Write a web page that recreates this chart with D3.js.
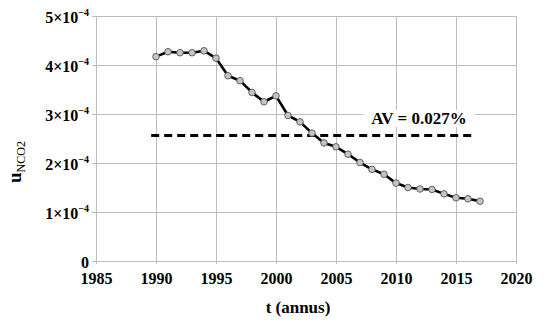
<!DOCTYPE html>
<html><head><meta charset="utf-8">
<script src="https://cdn.jsdelivr.net/npm/d3@7"></script>
<style>body{margin:0;background:#fff;} svg{display:block;font-family:"Liberation Serif","Times New Roman",serif;}</style>
</head><body>
<svg id="c" width="550" height="325"></svg>
<script>
const years = [1990,1991,1992,1993,1994,1995,1996,1997,1998,1999,2000,2001,2002,2003,2004,2005,2006,2007,2008,2009,2010,2011,2012,2013,2014,2015,2016,2017];
const values = [4.17e-4,4.27e-4,4.25e-4,4.25e-4,4.29e-4,4.14e-4,3.78e-4,3.68e-4,3.44e-4,3.25e-4,3.37e-4,2.97e-4,2.84e-4,2.61e-4,2.41e-4,2.33e-4,2.18e-4,2.01e-4,1.87e-4,1.77e-4,1.59e-4,1.50e-4,1.47e-4,1.46e-4,1.37e-4,1.29e-4,1.27e-4,1.22e-4];
const avgValue = 2.56e-4;
const avgRange = [1989.6, 2016.5];
const avgLabel = "AV = 0.027%";
const xTicks = [1985,1990,1995,2000,2005,2010,2015,2020];
const yTicks = [0,1e-4,2e-4,3e-4,4e-4,5e-4];
const yTickMant = ["0","1","2","3","4","5"];
const xTitle = "t (annus)";

const svg = d3.select("#c");
const x = d3.scaleLinear().domain([1985,2020]).range([96,516]);
const y = d3.scaleLinear().domain([0,5e-4]).range([261,16]);
const grid = "#bdbdbd";

// grid
svg.append("g").selectAll("line").data(xTicks).join("line")
  .attr("x1",d=>x(d)).attr("x2",d=>x(d)).attr("y1",y(5e-4)).attr("y2",y(0)+3)
  .attr("stroke",grid).attr("stroke-width",1).attr("shape-rendering","crispEdges");
svg.append("g").selectAll("line").data(yTicks).join("line")
  .attr("x1",x(1985)-4).attr("x2",x(2020)).attr("y1",d=>y(d)).attr("y2",d=>y(d))
  .attr("stroke",grid).attr("stroke-width",1).attr("shape-rendering","crispEdges");

// axes via d3 (labels only)
const xAxis = svg.append("g").attr("transform",`translate(0,${y(0)})`)
  .call(d3.axisBottom(x).tickValues(xTicks).tickFormat(d3.format("d")).tickSize(0).tickPadding(12));
xAxis.select(".domain").remove();
xAxis.selectAll("text").attr("font-size",16).attr("font-weight","bold").attr("fill","#000")
  .attr("font-family","Liberation Serif, serif");

const yAxis = svg.append("g").attr("transform",`translate(${x(1985)},0)`)
  .call(d3.axisLeft(y).tickValues(yTicks).tickFormat("").tickSize(0));
yAxis.select(".domain").remove();
yAxis.selectAll(".tick").each(function(d,i){
  const t = d3.select(this).append("text").attr("x",-7).attr("dy","6")
    .attr("text-anchor","end").attr("fill","#000").attr("font-weight","bold")
    .attr("font-family","Liberation Serif, serif").attr("font-size",16);
  if (d === 0) { t.text("0"); }
  else {
    t.append("tspan").text(yTickMant[i] + "\u00d710");
    t.append("tspan").attr("font-size",10).attr("dy",-7).text("\u22124");
  }
});

// AV line
svg.append("line").attr("x1",x(avgRange[0])).attr("x2",x(avgRange[1]))
  .attr("y1",y(avgValue)).attr("y2",y(avgValue))
  .attr("stroke","#000").attr("stroke-width",3).attr("stroke-dasharray","8,5");

// AV label with white background
const lbl = svg.append("g");
const lt = lbl.append("text").attr("x",419).attr("y",124).attr("text-anchor","middle")
  .attr("font-size",17).attr("font-weight","bold").attr("fill","#000").text(avgLabel);
const bb = lt.node().getBBox();
lbl.insert("rect","text").attr("x",bb.x-8).attr("y",bb.y+1).attr("width",bb.width+16).attr("height",bb.height-2).attr("fill","#fff");

// data line
const pts = years.map((yr,i)=>[yr,values[i]]);
svg.append("path").datum(pts)
  .attr("d",d3.line().x(d=>x(d[0])).y(d=>y(d[1])))
  .attr("fill","none").attr("stroke","#000").attr("stroke-width",2.6).attr("stroke-linejoin","round");
svg.append("g").selectAll("circle").data(pts).join("circle")
  .attr("cx",d=>x(d[0])).attr("cy",d=>y(d[1])).attr("r",3.3)
  .attr("fill","#c4c4c4").attr("stroke","#555").attr("stroke-width",0.9);

// titles
svg.append("text").attr("x",298).attr("y",313).attr("text-anchor","middle")
  .attr("font-size",17).attr("font-weight","bold").text(xTitle);
const yt = svg.append("text").attr("transform","translate(21,162) rotate(-90)").attr("text-anchor","middle");
yt.append("tspan").attr("font-size",19).attr("font-weight","bold").text("u");
yt.append("tspan").attr("font-size",12).attr("dy",4).text("NCO2");
</script>
</body></html>
